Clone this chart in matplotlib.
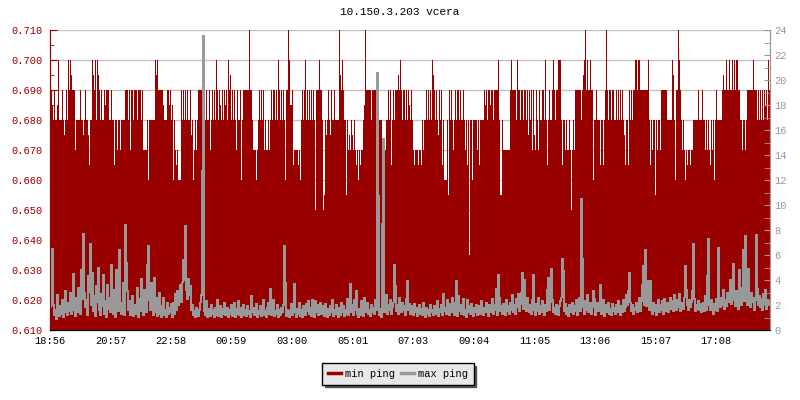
import numpy as np
import matplotlib
matplotlib.use('Agg')
from matplotlib import pyplot as plt
from matplotlib.lines import Line2D

plt.rcParams['font.family'] = ['Liberation Mono', 'DejaVu Sans Mono']
plt.rcParams['font.size'] = 7.5

title = '10.150.3.203 vcera'
tick_labels = ['18:56', '20:57', '22:58', '00:59', '03:00', '05:01',
               '07:03', '09:04', '11:05', '13:06', '15:07', '17:08']

# min ping in thousandths of ms (left axis), one sample every 2 minutes
min_ping = [
    690, 690, 685, 680, 690, 680, 680, 685, 700, 680, 680, 680, 690, 680, 675, 680, 690, 680, 700, 690,
    700, 695, 690, 690, 690, 670, 680, 680, 680, 680, 690, 680, 680, 675, 680, 690, 680, 680, 675, 665,
    680, 680, 700, 695, 690, 700, 680, 700, 695, 690, 680, 690, 680, 680, 690, 685, 690, 690, 690, 680,
    680, 690, 680, 680, 665, 680, 680, 670, 680, 680, 670, 680, 680, 680, 680, 690, 690, 690, 680, 690,
    670, 690, 690, 680, 690, 690, 690, 680, 690, 690, 690, 680, 690, 670, 670, 670, 670, 680, 660, 680,
    680, 680, 680, 680, 680, 700, 695, 700, 690, 690, 690, 690, 690, 685, 680, 680, 680, 690, 690, 685,
    690, 680, 685, 660, 680, 670, 665, 670, 660, 660, 660, 690, 680, 690, 680, 690, 680, 690, 680, 680,
    690, 675, 680, 660, 670, 680, 670, 680, 690, 690, 690, 690, 690, 690, 660, 680, 690, 680, 680, 690,
    670, 680, 690, 680, 690, 680, 700, 690, 680, 690, 685, 680, 690, 680, 690, 685, 690, 680, 700, 690,
    695, 680, 690, 680, 690, 680, 670, 690, 680, 680, 690, 660, 680, 690, 690, 690, 690, 690, 690, 710,
    690, 690, 680, 670, 670, 670, 660, 670, 680, 690, 680, 690, 680, 690, 670, 680, 670, 670, 680, 670,
    680, 690, 680, 690, 690, 680, 690, 680, 700, 690, 680, 690, 680, 690, 680, 660, 690, 690, 710, 700,
    685, 685, 690, 665, 670, 670, 670, 670, 665, 670, 660, 680, 690, 680, 690, 700, 680, 690, 680, 690,
    680, 690, 680, 690, 680, 650, 690, 690, 690, 700, 690, 690, 680, 650, 655, 680, 675, 680, 690, 680,
    675, 690, 680, 680, 690, 680, 680, 680, 680, 710, 695, 690, 700, 690, 680, 680, 655, 680, 670, 675,
    670, 680, 675, 670, 680, 670, 665, 670, 660, 670, 665, 670, 670, 680, 685, 710, 690, 690, 690, 690,
    690, 680, 690, 690, 690, 690, 690, 680, 680, 680, 680, 680, 670, 660, 670, 670, 680, 680, 690, 680,
    690, 665, 680, 690, 680, 690, 690, 690, 695, 690, 700, 690, 680, 690, 690, 680, 690, 680, 690, 685,
    680, 690, 680, 670, 665, 670, 670, 670, 665, 670, 670, 665, 680, 670, 680, 680, 690, 680, 690, 680,
    690, 680, 700, 695, 690, 680, 690, 680, 675, 690, 680, 690, 665, 680, 660, 660, 660, 680, 655, 690,
    680, 690, 680, 670, 680, 690, 680, 690, 690, 680, 690, 680, 680, 690, 680, 670, 680, 665, 680, 635,
    680, 680, 660, 680, 680, 680, 680, 670, 680, 665, 680, 680, 680, 680, 690, 685, 690, 680, 690, 690,
    685, 690, 690, 680, 690, 690, 690, 690, 700, 680, 655, 655, 680, 670, 670, 670, 670, 670, 670, 670,
    690, 700, 690, 690, 690, 690, 680, 700, 690, 690, 680, 690, 690, 680, 690, 690, 680, 690, 675, 690,
    680, 690, 670, 690, 675, 670, 690, 680, 670, 690, 680, 680, 690, 690, 680, 700, 680, 665, 680, 690,
    680, 680, 690, 700, 690, 680, 690, 690, 700, 700, 700, 680, 665, 680, 680, 670, 680, 670, 670, 680,
    670, 650, 670, 680, 670, 690, 690, 690, 690, 690, 690, 680, 690, 695, 700, 710, 690, 700, 690, 690,
    700, 690, 690, 660, 680, 680, 690, 680, 680, 680, 665, 680, 680, 665, 680, 690, 710, 690, 680, 690,
    690, 680, 690, 690, 680, 680, 690, 680, 690, 680, 690, 680, 690, 680, 675, 665, 680, 680, 665, 690,
    680, 690, 680, 690, 690, 700, 700, 690, 700, 700, 690, 690, 690, 690, 690, 690, 690, 690, 700, 680,
    665, 680, 670, 680, 680, 655, 680, 670, 680, 680, 670, 690, 690, 690, 690, 690, 690, 680, 680, 680,
    680, 680, 700, 695, 680, 660, 690, 690, 710, 700, 690, 680, 670, 680, 670, 660, 670, 665, 670, 670,
    665, 670, 670, 680, 680, 680, 680, 680, 690, 680, 680, 680, 690, 680, 680, 670, 680, 670, 680, 670,
    665, 680, 670, 680, 660, 680, 690, 680, 680, 680, 680, 680, 690, 695, 690, 690, 700, 690, 690, 700,
    690, 690, 700, 690, 700, 690, 700, 700, 690, 690, 680, 680, 670, 680, 680, 670, 680, 690, 690, 690,
    690, 690, 690, 700, 690, 690, 690, 680, 690, 680, 690, 680, 690, 680, 690, 685, 690, 680, 700, 690,
]

# max ping in ms (right axis)
max_ping = [
    1.8, 3.5, 6.5, 2.0, 1.2, 1.6, 0.9, 2.8, 1.4, 1.1, 1.9, 1.3, 2.4, 1.0, 1.6, 3.1, 1.4, 1.2, 2.2, 1.5,
    3.0, 1.3, 2.1, 4.5, 1.6, 1.1, 2.6, 1.4, 3.4, 2.2, 1.3, 4.8, 2.5, 7.7, 3.0, 1.8, 2.4, 1.2, 4.3, 3.0,
    6.9, 2.0, 4.6, 1.5, 2.7, 1.1, 3.5, 2.2, 5.0, 1.6, 1.2, 2.9, 1.9, 4.4, 1.3, 2.3, 1.0, 3.6, 1.7, 2.6,
    1.4, 5.2, 2.1, 1.3, 3.2, 1.0, 4.8, 2.0, 1.5, 6.4, 2.2, 1.3, 1.9, 3.8, 1.2, 8.4, 5.4, 3.1, 1.6, 2.3,
    1.2, 1.8, 2.7, 1.1, 1.6, 2.0, 1.3, 3.4, 1.0, 2.5, 1.5, 4.1, 1.9, 1.2, 3.2, 2.0, 1.4, 5.2, 6.7, 2.4,
    1.6, 3.8, 2.0, 1.2, 4.2, 1.4, 2.6, 1.1, 1.8, 3.0, 1.3, 1.0, 1.9, 2.6, 1.2, 1.6, 1.0, 2.2, 1.3, 1.8,
    1.4, 2.1, 1.0, 2.2, 1.3, 2.9, 1.6, 3.1, 2.0, 2.6, 3.6, 2.2, 3.8, 5.6, 4.0, 8.3, 3.2, 2.5, 4.1, 2.8,
    3.5, 1.6, 2.0, 1.2, 1.5, 1.0, 1.8, 1.3, 1.1, 1.6, 2.2, 2.8, 12.7, 23.5, 1.5, 1.2, 2.3, 1.0, 1.7, 1.4,
    1.1, 2.0, 1.3, 1.6, 1.0, 1.8, 1.2, 2.4, 1.1, 1.5, 1.9, 1.0, 1.7, 1.3, 2.2, 1.2, 1.4, 1.8, 1.0, 1.6,
    1.3, 2.0, 1.1, 1.5, 2.2, 1.0, 1.7, 1.3, 2.3, 1.2, 1.8, 1.0, 1.4, 2.0, 1.2, 1.6, 1.1, 1.9, 1.3, 1.5,
    1.0, 2.7, 1.4, 1.8, 1.2, 1.6, 2.1, 1.0, 1.5, 1.3, 1.9, 1.1, 1.6, 2.4, 1.2, 1.5, 1.0, 1.8, 2.2, 1.3,
    3.3, 1.2, 1.9, 2.4, 1.1, 1.5, 1.3, 2.0, 1.0, 1.6, 1.2, 1.8, 1.4, 2.0, 6.7, 3.8, 1.1, 1.6, 1.3, 1.0,
    1.5, 2.1, 1.2, 1.8, 3.7, 1.4, 1.0, 1.7, 1.3, 2.2, 1.1, 1.6, 1.0, 1.9, 1.4, 1.2, 2.1, 1.5, 2.3, 1.3,
    1.8, 1.1, 2.4, 1.6, 1.0, 2.3, 1.4, 2.0, 1.2, 1.6, 2.2, 1.3, 1.9, 1.5, 1.1, 2.1, 1.4, 1.0, 1.7, 1.2,
    1.9, 1.4, 2.4, 1.1, 1.6, 1.3, 2.0, 1.5, 1.0, 1.8, 1.2, 2.2, 1.4, 1.9, 1.1, 1.6, 1.3, 2.5, 1.2, 1.7,
    3.7, 1.4, 2.0, 1.2, 2.4, 1.6, 3.1, 1.3, 1.0, 1.7, 1.2, 2.3, 1.5, 1.1, 2.6, 1.4, 1.9, 2.2, 1.3, 1.6,
    1.1, 2.0, 1.4, 1.8, 1.3, 2.4, 1.6, 20.6, 10.7, 1.2, 1.7, 1.0, 8.5, 15.3, 1.4, 1.9, 2.8, 1.3, 2.0, 1.6,
    2.4, 1.3, 1.8, 2.2, 5.2, 3.5, 1.5, 2.0, 1.3, 2.6, 1.8, 1.4, 2.2, 1.6, 1.9, 1.2, 2.5, 3.9, 1.6, 2.1,
    1.3, 1.9, 1.6, 1.2, 2.1, 1.4, 1.8, 1.1, 1.5, 2.0, 1.3, 1.7, 1.2, 2.2, 1.4, 1.0, 1.8, 1.3, 1.6, 1.1,
    2.0, 1.4, 1.6, 1.2, 1.9, 1.3, 1.5, 2.3, 1.1, 1.7, 1.4, 2.0, 1.2, 2.9, 1.5, 1.8, 1.3, 2.4, 1.6, 1.2,
    2.1, 1.4, 2.6, 1.8, 1.2, 2.2, 3.9, 1.1, 2.7, 1.5, 2.0, 1.3, 1.7, 2.5, 1.2, 1.6, 1.0, 2.4, 1.4, 1.9,
    1.3, 2.1, 1.6, 1.1, 1.8, 1.4, 2.0, 1.2, 1.5, 1.9, 1.3, 2.3, 1.6, 1.2, 1.8, 1.4, 2.2, 1.5, 1.1, 2.0,
    1.4, 1.8, 2.5, 1.3, 2.0, 1.6, 3.3, 1.2, 4.4, 2.6, 1.5, 1.9, 1.3, 2.1, 1.7, 1.2, 2.4, 1.5, 1.9, 1.3,
    2.2, 1.6, 2.8, 1.4, 2.0, 1.3, 2.5, 1.8, 2.9, 1.5, 2.1, 3.0, 4.6, 1.7, 4.0, 2.2, 1.5, 2.6, 1.8, 1.4,
    2.0, 1.3, 2.4, 4.4, 1.6, 1.2, 2.1, 1.5, 2.6, 1.3, 1.9, 1.4, 2.3, 1.7, 1.2, 2.0, 1.5, 3.2, 4.2, 1.6,
    2.2, 4.9, 2.4, 1.4, 1.8, 1.3, 2.0, 1.6, 1.2, 1.9, 2.3, 2.6, 5.7, 4.7, 1.5, 2.1, 1.3, 1.8, 1.1, 2.0,
    1.4, 1.7, 2.2, 1.3, 1.9, 1.5, 2.4, 1.2, 1.8, 2.6, 1.5, 10.5, 5.7, 1.8, 1.3, 2.3, 1.6, 2.8, 1.4, 1.9,
    2.2, 1.3, 1.8, 3.1, 2.5, 1.2, 1.7, 2.2, 1.5, 1.9, 3.6, 1.3, 1.6, 2.4, 1.1, 2.0, 1.4, 1.8, 2.2, 1.3,
    1.7, 1.2, 2.1, 1.5, 1.8, 1.3, 2.0, 1.4, 2.3, 1.6, 1.2, 1.9, 1.4, 2.4, 1.5, 1.8, 2.8, 2.0, 3.1, 4.6,
    2.2, 1.5, 2.0, 1.3, 1.8, 1.6, 2.2, 1.4, 1.9, 2.6, 1.5, 2.3, 3.6, 5.1, 2.0, 6.4, 1.9, 2.5, 3.9, 1.6,
    3.9, 1.8, 1.3, 2.2, 1.5, 2.0, 1.2, 1.7, 2.4, 1.4, 2.0, 1.6, 2.3, 1.3, 2.5, 1.8, 1.5, 2.2, 1.4, 2.0,
    2.6, 1.7, 2.3, 1.5, 2.8, 2.1, 1.6, 2.4, 1.8, 2.9, 1.5, 2.2, 2.0, 1.7, 2.6, 5.1, 3.2, 2.0, 1.6, 2.4,
    1.8, 2.2, 3.1, 6.9, 2.5, 1.5, 2.0, 1.7, 2.3, 1.6, 2.1, 1.4, 1.9, 2.2, 1.5, 2.7, 1.6, 4.3, 7.3, 2.0,
    1.6, 2.4, 1.8, 1.3, 2.1, 1.6, 2.5, 1.5, 6.6, 2.3, 1.8, 2.6, 2.0, 3.2, 1.7, 2.4, 1.9, 3.0, 2.2, 2.6,
    4.0, 2.1, 3.5, 5.3, 2.4, 1.9, 3.1, 2.2, 1.7, 4.8, 2.6, 2.0, 3.4, 6.4, 2.3, 7.5, 2.8, 2.0, 4.9, 2.4,
    1.8, 3.0, 2.2, 2.6, 1.6, 2.4, 7.6, 3.3, 2.0, 2.7, 1.8, 2.5, 1.6, 2.9, 2.1, 3.2, 1.7, 2.4, 2.0, 2.3,
]

RED = '#990000'
GREY = '#999999'

# x in minutes from 18:56, 2 min per sample
x = np.arange(len(min_ping)) * 2.0
mn = np.array(min_ping) / 1000.0
xe = np.append(x, 1440)
mx = np.append(np.array(max_ping), max_ping[-1])

def to_min(lbl):
    h, m = lbl.split(':')
    t = int(h) * 60 + int(m) - (18 * 60 + 56)
    return t % 1440

tick_pos = [to_min(t) for t in tick_labels]

fig = plt.figure(figsize=(8, 4), dpi=100)
ax = fig.add_axes([50 / 800, 70 / 400, 720 / 800, 300 / 400])
ax2 = ax.twinx()

ax.set_axisbelow(True)
ax.grid(axis='y', color='#c4c4c4', lw=1)
ax.bar(x, mn - 0.610, width=2.0, bottom=0.610, align='edge', color=RED,
       lw=0, antialiased=False)
ax2.step(xe, mx, where='post', color=GREY, lw=0.72, antialiased=False)

ax.set_xlim(0, 1440)
ax.set_ylim(0.610, 0.710)
ax2.set_ylim(0, 24)

ax.set_yticks(np.linspace(0.610, 0.710, 11))
ax.set_yticks(np.linspace(0.615, 0.705, 10), minor=True)
ax.set_yticklabels(['%.3f' % v for v in np.linspace(0.610, 0.710, 11)])
ax.tick_params(axis='y', which='major', direction='in', length=5, color=RED, labelcolor=RED, pad=5.5)
ax.tick_params(axis='y', which='minor', direction='in', length=3, color=RED)

ax.set_xticks(tick_pos)
ax.set_xticklabels(tick_labels)
ax.tick_params(axis='x', direction='in', length=5, color='black', pad=4)

ax2.set_yticks(range(0, 25, 2))
ax2.set_yticks(range(1, 24, 2), minor=True)
ax2.tick_params(axis='y', which='both', direction='in', length=4, color=GREY, labelcolor=GREY, pad=3)

for a in (ax, ax2):
    a.spines['top'].set_visible(False)
    a.spines['left'].set_color(RED)
    a.spines['right'].set_color(GREY)
    a.spines['bottom'].set_color('black')

fig.text(0.5, 1 - 12 / 400, title, ha='center', va='center', fontsize=8)

handles = [Line2D([], [], color=RED, lw=2.5), Line2D([], [], color=GREY, lw=2.5)]
leg = fig.legend(handles, ['min ping', 'max ping'], loc='upper center',
                 bbox_to_anchor=(398 / 800, 1 - 358 / 400), ncol=2, frameon=True,
                 fancybox=False, shadow={'color': '#555555', 'alpha': 1},
                 edgecolor='black', facecolor='#e8e8e8', framealpha=1,
                 handlelength=1.25, handletextpad=0.4, columnspacing=0.5,
                 borderpad=0.55, fontsize=7.5)
leg.get_frame().set_linewidth(1)

fig.savefig('out.png', dpi=100)
